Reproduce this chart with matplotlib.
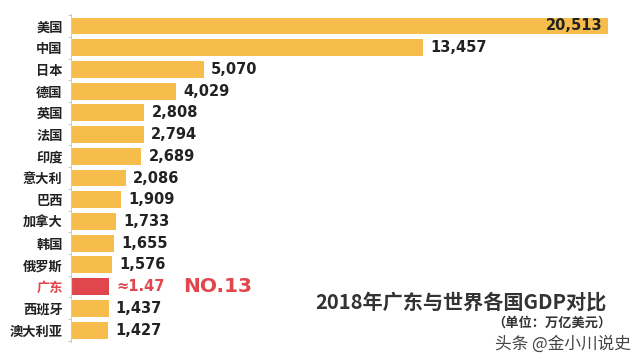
import numpy as np
import matplotlib.pyplot as plt

plt.rcParams['font.family'] = ['Noto Sans CJK SC', 'DejaVu Sans']

# 2018 GDP, trillion USD
countries = ['美国', '中国', '日本', '德国', '英国', '法国', '印度', '意大利',
             '巴西', '加拿大', '韩国', '俄罗斯', '广东', '西班牙', '澳大利亚']
gdp = [20.513, 13.457, 5.070, 4.029, 2.808, 2.794, 2.689, 2.086,
       1.909, 1.733, 1.655, 1.576, 1.47, 1.437, 1.427]
labels = ['20,513', '13,457', '5,070', '4,029', '2,808', '2,794', '2,689',
          '2,086', '1,909', '1,733', '1,655', '1,576', '≈1.47', '1,437',
          '1,427']

yellow = '#f6bd4c'
red = '#e0464c'
dark = '#222222'
num_font = ['DejaVu Sans']

fig = plt.figure(figsize=(6.4, 3.6), dpi=100)
ax = fig.add_axes([0.111, 0.05, 0.86, 0.911])

y = np.arange(len(countries))
colors = [red if c == '广东' else yellow for c in countries]
ax.barh(y, gdp, height=0.78, color=colors)

ax.set_xlim(0, 21.04)
ax.set_ylim(14.55, -0.55)

# value labels
for i, (v, lab) in enumerate(zip(gdp, labels)):
    if i == 0:
        ax.text(v - 0.2, i, lab, ha='right', va='center', fontsize=10.5,
                fontweight='bold', color=dark, family=num_font)
    elif countries[i] == '广东':
        ax.text(v + 0.27, i, lab, ha='left', va='center', fontsize=10.5,
                fontweight='bold', color=red, family=num_font)
        ax.text(v + 2.82, i, 'NO.13', ha='left', va='center', fontsize=14.5,
                fontweight='bold', color=red, family=num_font)
    else:
        ax.text(v + 0.27, i, lab, ha='left', va='center', fontsize=10.5,
                fontweight='bold', color=dark, family=num_font)

# category labels
ax.set_yticks(y)
ax.set_yticklabels(countries, fontsize=9.5, fontweight='bold')
for t, c in zip(ax.get_yticklabels(), countries):
    t.set_color(red if c == '广东' else dark)
ax.tick_params(axis='y', length=0, pad=6)
ax.set_yticks(np.arange(len(countries) + 1) - 0.5, minor=True)
ax.tick_params(axis='y', which='minor', length=2, color='#bbbbbb')
ax.set_xticks([])

for s in ['top', 'right', 'bottom']:
    ax.spines[s].set_visible(False)
ax.spines['left'].set_color('#cccccc')
ax.spines['left'].set_linewidth(0.8)

fig.text(0.72, 0.16, '2018年广东与世界各国GDP对比', ha='center', va='center',
         fontsize=14.5, fontweight='bold', color='#333333')
fig.text(0.955, 0.105, '（单位：万亿美元）', ha='right', va='center',
         fontsize=9.5, fontweight='bold', color='#333333')
fig.text(0.985, 0.045, '头条 @金小川说史', ha='right', va='center',
         fontsize=12, color='#444444')

fig.savefig('out.png', dpi=100)
